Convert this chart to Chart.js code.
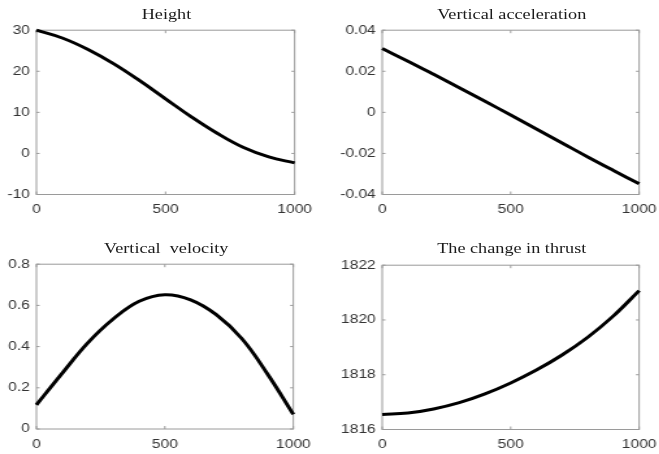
<!DOCTYPE html>
<html><head><meta charset="utf-8">
<script src="https://cdn.jsdelivr.net/npm/chart.js@4"></script>
<style>
html,body{margin:0;padding:0;background:#fff;width:659px;height:454px;overflow:hidden}
#wrap{position:absolute;left:0;top:0;width:507px;height:454px;transform:scaleX(1.3);transform-origin:0 0}
canvas{position:absolute}
.t{position:absolute;font-family:"Liberation Serif","Times New Roman",serif;font-size:14px;line-height:14px;color:#1a1a1a;text-align:center;white-space:pre}
</style></head><body><div id="wrap"></div>
<script>
// ---- data ----
const xValues = [0, 100, 200, 300, 400, 500, 600, 700, 800, 900, 1000];
const heightValues = [30, 28.1, 25.3, 21.8, 17.7, 13.3, 8.9, 4.9, 1.5, -0.85, -2.3];
const accelValues = [0.0311, 0.0249, 0.0185, 0.0120, 0.0054, -0.0013, -0.0081, -0.0149, -0.0217, -0.0283, -0.0348];
const velocityValues = [0.117, 0.27, 0.418, 0.535, 0.62, 0.652, 0.627, 0.555, 0.438, 0.266, 0.071];
const thrustValues = [1816.55, 1816.6, 1816.75, 1816.98, 1817.3, 1817.7, 1818.17, 1818.72, 1819.37, 1820.15, 1821.07];
const titles = ['Height', 'Vertical acceleration', 'Vertical  velocity', 'The change in thrust'];
const xTicks = [0, 500, 1000];
const heightTicks = [-10, 0, 10, 20, 30];
const accelTicks = [-0.04, -0.02, 0, 0.02, 0.04];
const velocityTicks = [0, 0.2, 0.4, 0.6, 0.8];
const thrustTicks = [1816, 1818, 1820, 1822];

// ---- layout ----
const S = 1.3;
const series = [heightValues, accelValues, velocityValues, thrustValues];
const yTickSets = [heightTicks, accelTicks, velocityTicks, thrustTicks];
// left, right, top, bottom (screen px), y label room (unscaled px)
const boxes = [[37, 296, 26, 194.5, 36], [382.5, 641, 26, 194.5, 44], [37, 295.5, 260, 429, 36], [382.5, 641, 260.5, 429, 44]];
const titleTops = [8, 8, 242, 242];
const padTop = 8, xhBase = 30;
const tickFont = {family: 'Liberation Sans', size: 12};
const tickColor = '#333';

const frame = {
  id: 'frame',
  beforeDatasetsDraw(chart) {
    const ctx = chart.ctx, a = chart.chartArea;
    const xs = chart.scales.x, ys = chart.scales.y;
    ctx.save();
    ctx.strokeStyle = '#9a9a9a';
    ctx.lineWidth = 1;
    ctx.strokeRect(a.left, a.top, a.right - a.left, a.bottom - a.top);
    ctx.beginPath();
    xs.ticks.forEach(t => {
      const p = xs.getPixelForValue(t.value);
      ctx.moveTo(p, a.bottom); ctx.lineTo(p, a.bottom - 3);
      ctx.moveTo(p, a.top); ctx.lineTo(p, a.top + 3);
    });
    ys.ticks.forEach(t => {
      const p = ys.getPixelForValue(t.value);
      ctx.moveTo(a.left, p); ctx.lineTo(a.left + 2.5, p);
      ctx.moveTo(a.right, p); ctx.lineTo(a.right - 2.5, p);
    });
    ctx.stroke();
    ctx.restore();
  }
};

const wrap = document.getElementById('wrap');
boxes.forEach((b, i) => {
  const L = b[0] / S, R = b[1] / S, T = b[2], B = b[3], yw = b[4];
  const W = Math.ceil(yw + (R - L) + 20);
  const pr = W - yw - (R - L);
  const H = Math.ceil(padTop + (B - T) + xhBase);
  const xh = H - padTop - (B - T);
  const cv = document.createElement('canvas');
  cv.width = W; cv.height = H;
  cv.style.width = W + 'px'; cv.style.height = H + 'px';
  cv.style.left = (L - yw) + 'px'; cv.style.top = (T - padTop) + 'px';
  wrap.appendChild(cv);

  const tt = document.createElement('div');
  tt.className = 't';
  tt.textContent = titles[i];
  tt.style.left = L + 'px'; tt.style.width = (R - L) + 'px'; tt.style.top = titleTops[i] + 'px';
  wrap.appendChild(tt);

  const yt = yTickSets[i];
  new Chart(cv, {
    type: 'line',
    data: {datasets: [{
      data: xValues.map((x, j) => ({x: x, y: series[i][j]})),
      borderColor: '#000', borderWidth: 3, pointRadius: 0,
      tension: 0.4, clip: 4, fill: false
    }]},
    options: {
      responsive: false, animation: false, devicePixelRatio: 1,
      layout: {padding: {top: padTop, right: pr, left: 0, bottom: 0}},
      plugins: {legend: {display: false}, tooltip: {enabled: false}, title: {display: false}},
      scales: {
        x: {
          type: 'linear', min: xTicks[0], max: xTicks[xTicks.length - 1],
          grid: {display: false, drawTicks: false}, border: {display: false},
          afterBuildTicks: s => { s.ticks = xTicks.map(v => ({value: v})); },
          ticks: {padding: 8, maxRotation: 0, autoSkip: false, color: tickColor, font: tickFont, callback: v => String(v)},
          afterFit: s => { s.height = xh; }
        },
        y: {
          type: 'linear', min: yt[0], max: yt[yt.length - 1],
          grid: {display: false, drawTicks: false}, border: {display: false},
          afterBuildTicks: s => { s.ticks = yt.map(v => ({value: v})); },
          ticks: {padding: 5, autoSkip: false, color: tickColor, font: tickFont, callback: v => String(v)},
          afterFit: s => { s.width = yw; }
        }
      }
    },
    plugins: [frame]
  });
});
</script></body></html>
